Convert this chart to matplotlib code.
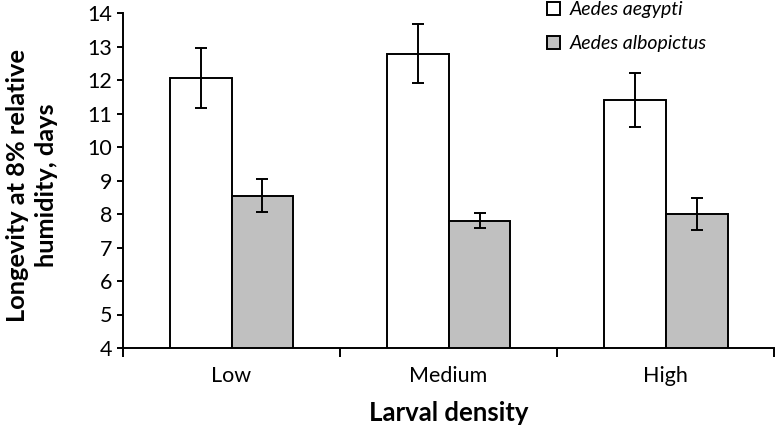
import matplotlib
matplotlib.use("Agg")
import matplotlib.pyplot as plt
import numpy as np

categories = ["Low", "Medium", "High"]
series_names = ["Aedes aegypti", "Aedes albopictus"]
aegypti = [12.05, 12.78, 11.4]
aegypti_err = [0.9, 0.88, 0.8]
albopictus = [8.55, 7.8, 8.0]
albopictus_err = [0.48, 0.23, 0.47]

plt.rcParams['font.family'] = ['Lato', 'DejaVu Sans']

fig = plt.figure(figsize=(7.75, 4.32), dpi=100)
ax = fig.add_axes([123/775, 1 - 348/432, (775 - 123)/775 - 0.001, (348 - 13)/432])

x = np.arange(len(categories))
w = 0.285
ekw = dict(ecolor='black', elinewidth=1.4, capthick=1.4)
ax.bar(x - w/2, aegypti, w, bottom=0, color='white', edgecolor='black', linewidth=1.4,
       yerr=aegypti_err, capsize=4.5, error_kw=ekw, label=series_names[0], zorder=2)
ax.bar(x + w/2, albopictus, w, bottom=0, color='#c0c0c0', edgecolor='black', linewidth=1.4,
       yerr=albopictus_err, capsize=4.5, error_kw=ekw, label=series_names[1], zorder=2)

ax.set_ylim(4, 14)
ax.set_xlim(-0.5, 2.5)
ax.set_yticks(range(4, 15))
ax.set_xticks([-0.5, 0.5, 1.5, 2.5])
ax.set_xticklabels([])
ax.set_xticks(x, minor=True)
ax.set_xticklabels(categories, minor=True, fontsize=15.5)
ax.tick_params(axis='x', which='minor', length=0, pad=13)
ax.tick_params(axis='x', which='major', length=6.5, width=1.4, direction='out')
ax.tick_params(axis='y', length=4, width=1.4, direction='out', labelsize=15.5, pad=4)
for s in ['top', 'right']:
    ax.spines[s].set_visible(False)
for s in ['left', 'bottom']:
    ax.spines[s].set_linewidth(1.4)

ax.set_xlabel("Larval density", fontsize=18.5, fontweight='bold', labelpad=11)
fig.text(32/775, 1 - 185/432, "Longevity at 8% relative\nhumidity, days", rotation=90,
         ha='center', va='center', fontsize=18.3, fontweight='bold',
         multialignment='center', linespacing=1.3)

leg = ax.legend(loc='upper left', bbox_to_anchor=(547/775, 1 - 1/432), bbox_transform=fig.transFigure,
                frameon=False, prop={'style': 'italic', 'size': 14},
                handlelength=0.68, handleheight=0.68, handletextpad=0.5, labelspacing=0.9,
                borderpad=0, borderaxespad=0)

fig.savefig("out.png", dpi=100)
